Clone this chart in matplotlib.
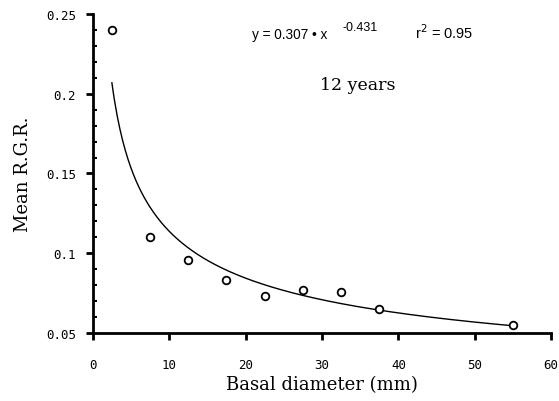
import numpy as np
import matplotlib.pyplot as plt
from matplotlib.ticker import MultipleLocator

# mean relative growth rate by basal diameter class
diameter = [2.5, 7.5, 12.5, 17.5, 22.5, 27.5, 32.5, 37.5, 55.0]
rgr = [0.240, 0.110, 0.096, 0.083, 0.073, 0.077, 0.076, 0.065, 0.055]

# power fit y = a * x^b
a, b = 0.307, -0.431
r2 = 0.95

fig = plt.figure(figsize=(5.59, 4.02), dpi=100)
ax = fig.add_axes([0.166, 0.169, 0.820, 0.794])

xfit = np.linspace(min(diameter), max(diameter), 300)
ax.plot(xfit, a * xfit ** b, color='black', lw=1.0)
ax.plot(diameter, rgr, 'o', mfc='white', mec='black', mew=1.3, ms=5.5)

ax.set_xlim(0, 60)
ax.set_ylim(0.05, 0.25)
ax.xaxis.set_major_locator(MultipleLocator(10))
ax.yaxis.set_minor_locator(MultipleLocator(0.01))
ax.set_yticks([0.05, 0.1, 0.15, 0.2, 0.25])
ax.set_yticklabels(['0.05', '0.1', '0.15', '0.2', '0.25'])

for side in ['top', 'right']:
    ax.spines[side].set_visible(False)
for side in ['left', 'bottom']:
    ax.spines[side].set_linewidth(2.0)

ax.tick_params(axis='both', which='major', direction='out', length=5, width=2,
               labelsize=9, pad=7)
ax.tick_params(axis='y', which='minor', direction='in', length=3, width=1.5)
ax.tick_params(axis='x', pad=13)
for lab in ax.get_xticklabels() + ax.get_yticklabels():
    lab.set_family('DejaVu Sans Mono')

ax.set_xlabel('Basal diameter (mm)', family='DejaVu Serif', fontsize=13, labelpad=3)
ax.set_ylabel('Mean R.G.R.', family='DejaVu Serif', fontsize=13, labelpad=10)

fig.text(0.451, 0.903, 'y = 0.307 \u2022 x', family='Liberation Sans', fontsize=9.8)
fig.text(0.613, 0.922, '-0.431', family='Liberation Sans', fontsize=9)
fig.text(0.742, 0.903, 'r$^2$ = 0.95', family='Liberation Sans', fontsize=10.5)
fig.text(0.573, 0.775, '12 years', family='DejaVu Serif', fontsize=12.5)

fig.savefig('out.png', dpi=100)
